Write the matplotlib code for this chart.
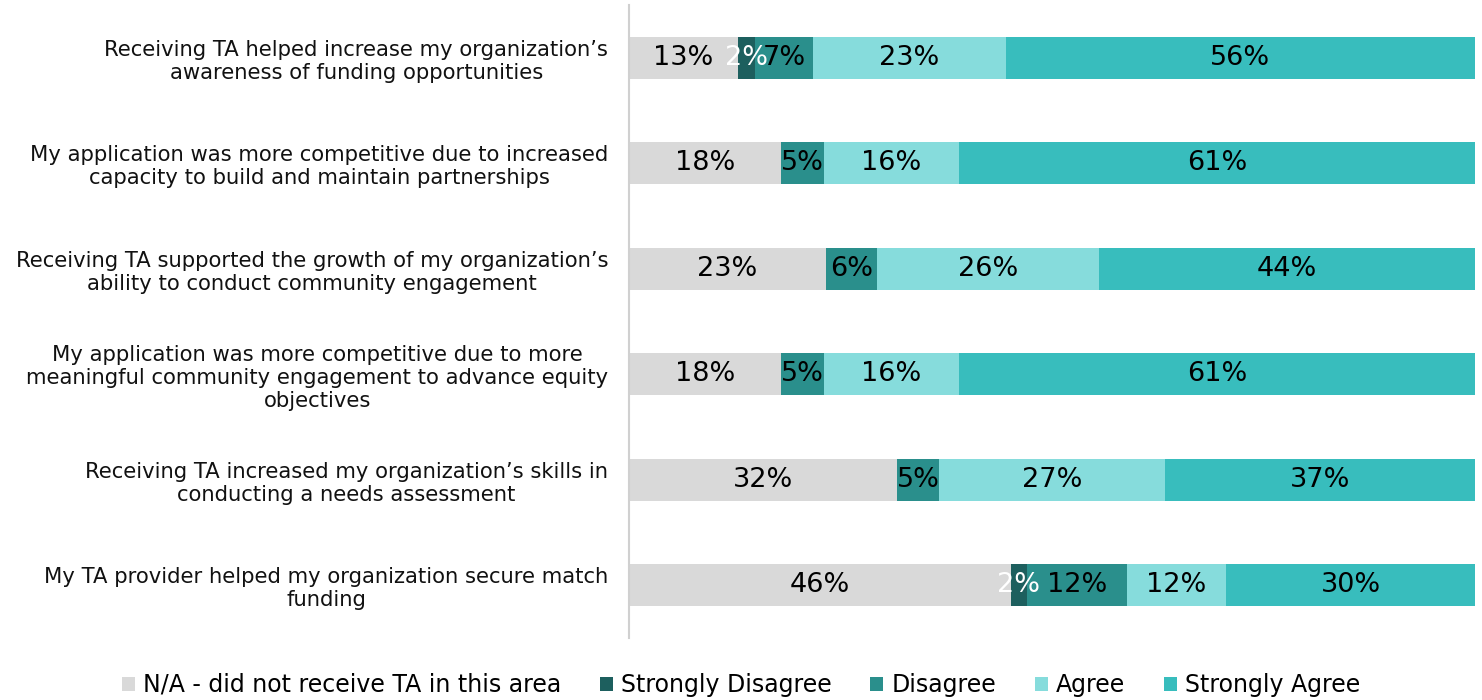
import matplotlib
matplotlib.use("Agg")
import matplotlib.pyplot as plt
import numpy as np

# survey items (top to bottom)
statements = [
    "Receiving TA helped increase my organization\u2019s\nawareness of funding opportunities",
    "My application was more competitive due to increased\ncapacity to build and maintain partnerships",
    "Receiving TA supported the growth of my organization\u2019s\nability to conduct community engagement",
    "My application was more competitive due to more\nmeaningful community engagement to advance equity\nobjectives",
    "Receiving TA increased my organization\u2019s skills in\nconducting a needs assessment",
    "My TA provider helped my organization secure match\nfunding",
]
categories = ["N/A - did not receive TA in this area", "Strongly Disagree",
              "Disagree", "Agree", "Strongly Agree"]

na_pct = [13, 18, 23, 18, 32, 46]
strongly_disagree = [2, 0, 0, 0, 0, 2]
disagree = [7, 5, 6, 5, 5, 12]
agree = [23, 16, 26, 16, 27, 12]
strongly_agree = [56, 61, 44, 61, 37, 30]

colors = ["#d9d9d9", "#1d5f5e", "#2a8f8c", "#86dcdc", "#38bdbd"]
label_colors = ["black", "white", "black", "black", "black"]

series = np.array([na_pct, strongly_disagree, disagree, agree, strongly_agree], dtype=float)
# 100% stacked: each row scaled to its own total
shares = series / series.sum(axis=0) * 100

fig = plt.figure(figsize=(14.82, 7), dpi=100)
ax = fig.add_axes([629 / 1482, 1 - 638 / 700, 846 / 1482, 633 / 700])

y = np.arange(len(statements))
left = np.zeros(len(statements))
for i, cat in enumerate(categories):
    ax.barh(y, shares[i], left=left, height=0.4, color=colors[i], label=cat)
    for j in range(len(statements)):
        if series[i, j] > 0:
            ax.text(left[j] + shares[i, j] / 2, y[j], "%d%%" % series[i, j],
                    ha="center", va="center", fontsize=19.5, color=label_colors[i])
    left += shares[i]

ax.set_xlim(0, 100)
ax.set_ylim(len(statements) - 0.5, -0.5)
ax.set_yticks(y)
ax.set_yticklabels(statements, fontsize=15.2, multialignment="center", color="#111111")
ax.tick_params(axis="y", length=0, pad=15)
ax.set_xticks([])
for s in ["top", "right", "bottom"]:
    ax.spines[s].set_visible(False)
ax.spines["left"].set_color("#d0d0d0")
ax.spines["left"].set_linewidth(1.5)

fig.legend(loc="center", bbox_to_anchor=(0.5, 1 - 685 / 700), ncol=5, frameon=False,
           fontsize=17, handlelength=0.55, handleheight=0.55, handletextpad=0.33,
           columnspacing=1.65)

fig.savefig("out.png", dpi=100)
